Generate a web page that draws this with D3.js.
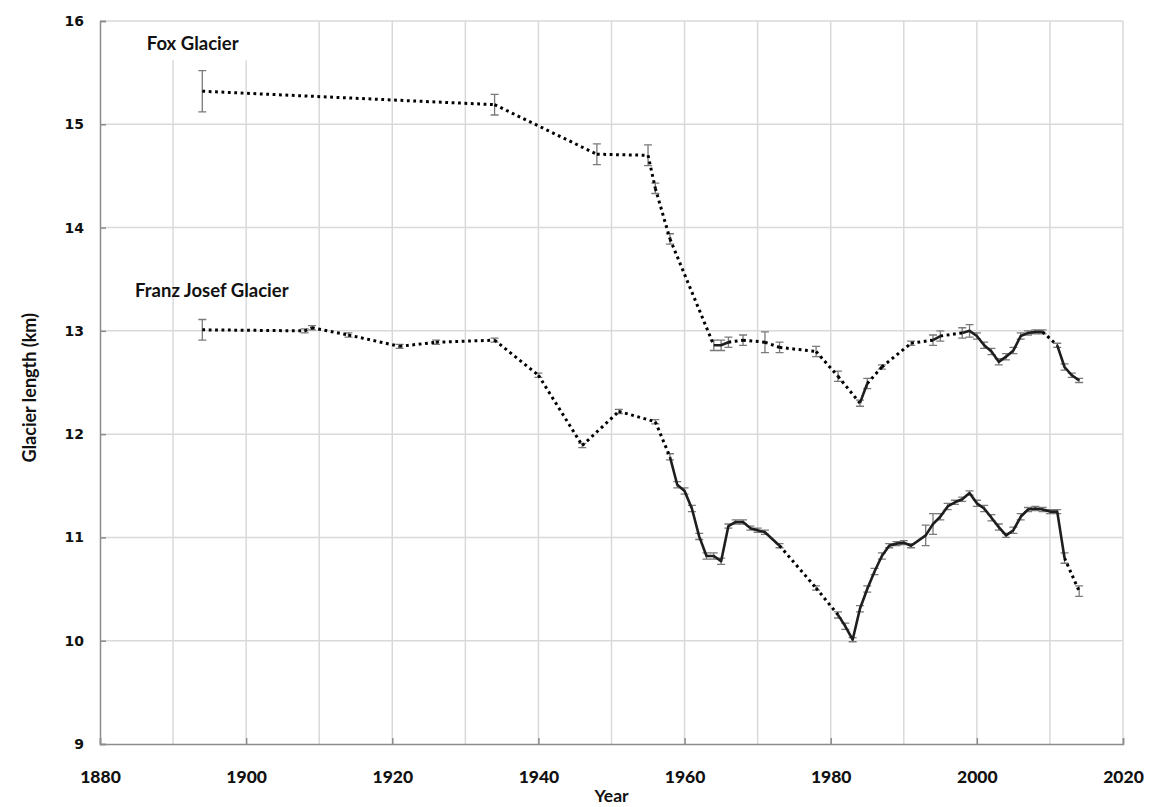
<!DOCTYPE html>
<html>
<head>
<meta charset="utf-8">
<script src="https://cdn.jsdelivr.net/npm/d3@7/dist/d3.min.js"></script>
<style>
  html, body { margin: 0; padding: 0; background: #fff; }
  svg { display: block; }
</style>
</head>
<body>
<svg id="chart" width="1153" height="807"></svg>
<script>
// Glacier terminus-based length records (km) with measurement uncertainty.
const foxYears = [1894, 1934, 1948, 1955, 1956, 1958, 1964, 1965, 1966, 1968, 1971, 1973, 1978, 1981,
  1984, 1985, 1987, 1991, 1994, 1995, 1998, 1999, 2000, 2001, 2002, 2003, 2004, 2005, 2006, 2007,
  2008, 2009, 2011, 2012, 2013, 2014];
const foxLength = [15.32, 15.19, 14.71, 14.70, 14.38, 13.89, 12.86, 12.86, 12.89, 12.91, 12.89, 12.84, 12.80, 12.56,
  12.30, 12.49, 12.65, 12.88, 12.91, 12.95, 12.98, 13.00, 12.95, 12.86, 12.80, 12.70, 12.75, 12.81, 12.95, 12.98,
  12.99, 12.99, 12.86, 12.65, 12.57, 12.52];
const foxError = [0.2, 0.1, 0.1, 0.1, 0.05, 0.05, 0.05, 0.05, 0.05, 0.05, 0.1, 0.05, 0.05, 0.05,
  0.03, 0.05, 0.02, 0.02, 0.05, 0.05, 0.05, 0.06, 0.03, 0.03, 0.03, 0.03, 0.03, 0.03, 0.03, 0.02,
  0.02, 0.02, 0.02, 0.03, 0.02, 0.02];
// Periods of annual surveys (drawn as continuous lines)
const foxAnnualPeriods = [[1964, 1966], [1984, 1985], [1994, 1995], [1998, 2009], [2011, 2014]];

const fjYears = [1894, 1908, 1909, 1914, 1921, 1926, 1934, 1940, 1946, 1951, 1956, 1958, 1959, 1960,
  1961, 1962, 1963, 1964, 1965, 1966, 1967, 1968, 1969, 1970, 1971, 1973, 1978, 1981, 1982, 1983,
  1984, 1985, 1986, 1987, 1988, 1989, 1990, 1991, 1993, 1994, 1995, 1996, 1997, 1998, 1999, 2000,
  2001, 2002, 2003, 2004, 2005, 2006, 2007, 2008, 2009, 2010, 2011, 2012, 2014];
const fjLength = [13.01, 13.00, 13.03, 12.96, 12.85, 12.89, 12.91, 12.57, 11.89, 12.22, 12.12, 11.78, 11.51, 11.45,
  11.28, 11.01, 10.82, 10.82, 10.77, 11.11, 11.15, 11.15, 11.09, 11.07, 11.05, 10.92, 10.51, 10.25, 10.14, 10.01,
  10.31, 10.50, 10.67, 10.82, 10.92, 10.94, 10.95, 10.92, 11.02, 11.13, 11.20, 11.30, 11.34, 11.37, 11.43, 11.33,
  11.28, 11.19, 11.10, 11.02, 11.07, 11.20, 11.27, 11.28, 11.27, 11.25, 11.25, 10.80, 10.48];
const fjError = [0.1, 0.02, 0.02, 0.02, 0.02, 0.02, 0.02, 0.02, 0.02, 0.02, 0.02, 0.03, 0.03, 0.03,
  0.03, 0.03, 0.03, 0.03, 0.03, 0.02, 0.02, 0.02, 0.02, 0.02, 0.02, 0.02, 0.02, 0.03, 0.03, 0.02,
  0.03, 0.03, 0.03, 0.03, 0.02, 0.02, 0.02, 0.02, 0.1, 0.1, 0.03, 0.03, 0.02, 0.02, 0.02, 0.03,
  0.03, 0.03, 0.03, 0.02, 0.03, 0.03, 0.02, 0.02, 0.02, 0.02, 0.02, 0.05, 0.05];
const fjAnnualPeriods = [[1958, 1973], [1981, 2012]];

const xTickYears = [1880, 1900, 1920, 1940, 1960, 1980, 2000, 2020];
const yTickValues = [9, 10, 11, 12, 13, 14, 15, 16];
const seriesLabels = ["Fox Glacier", "Franz Josef Glacier"];

const svg = d3.select("#chart");
const margin = { left: 100, right: 30, top: 21, bottom: 63 };
const W = 1153, H = 807;
const x = d3.scaleLinear().domain([1880, 2020]).range([margin.left, W - margin.right]);
const y = d3.scaleLinear().domain([9, 16]).range([H - margin.bottom, margin.top]);

// Gridlines
const grid = svg.append("g").attr("stroke", "#d9d9d9").attr("stroke-width", 1.5);
grid.selectAll("line.v").data(d3.range(1890, 2021, 10)).join("line")
  .attr("x1", d => x(d)).attr("x2", d => x(d))
  .attr("y1", y(16)).attr("y2", y(9));
grid.selectAll("line.h").data(yTickValues.slice(1)).join("line")
  .attr("x1", x(1880)).attr("x2", x(2020))
  .attr("y1", d => y(d)).attr("y2", d => y(d));

// Axes
const font = "Lato, 'Open Sans', sans-serif";
const xAxis = svg.append("g").attr("transform", `translate(0,${y(9)})`)
  .call(d3.axisBottom(x).tickValues(xTickYears).tickFormat(d3.format("d")).tickSizeInner(-6).tickSizeOuter(-6).tickPadding(27));
const yAxis = svg.append("g").attr("transform", `translate(${x(1880)},0)`)
  .call(d3.axisLeft(y).tickValues(yTickValues).tickFormat(d3.format("d")).tickSizeInner(-6).tickSizeOuter(-6).tickPadding(16));
[xAxis, yAxis].forEach(a => {
  a.select(".domain").attr("stroke", "#8c8c8c").attr("stroke-width", 1.5);
  a.selectAll(".tick line").attr("stroke", "#8c8c8c").attr("stroke-width", 1.5);
});
xAxis.selectAll(".tick text").attr("fill", "#111").attr("font-family", font)
  .attr("font-weight", 900).attr("font-size", 17.5);
yAxis.selectAll(".tick text").attr("fill", "#111").attr("font-family", "'DejaVu Sans', Verdana, sans-serif")
  .attr("font-weight", "bold").attr("font-size", 14);

svg.append("text").attr("x", x(1950)).attr("y", 802).attr("text-anchor", "middle")
  .attr("font-family", font).attr("font-weight", "bold").attr("font-size", 17.5).attr("fill", "#111")
  .text("Year");
svg.append("text").attr("transform", `translate(36,${y(12.45)}) rotate(-90)`).attr("text-anchor", "middle")
  .attr("font-family", font).attr("font-weight", "bold").attr("font-size", 18).attr("fill", "#111")
  .text("Glacier length (km)");

// Series drawing
function drawSeries(years, lengths, errors, periods) {
  const pts = years.map((yr, i) => ({ yr, v: lengths[i], e: errors[i] }));
  const inPeriod = (a, b) => periods.some(([s, t]) => a.yr >= s && b.yr <= t);
  const segs = d3.pairs(pts);
  const g = svg.append("g");

  // error bars
  const eb = g.append("g").attr("stroke", "#7a7a7a").attr("stroke-width", 1.3).attr("fill", "none");
  eb.selectAll("path").data(pts).join("path")
    .attr("d", d => {
      const cx = x(d.yr), t = y(d.v + d.e), b = y(d.v - d.e);
      return `M${cx - 4},${t}H${cx + 4}M${cx},${t}V${b}M${cx - 4},${b}H${cx + 4}`;
    });

  // dotted links between separate surveys
  g.append("g").selectAll("line").data(segs.filter(([a, b]) => !inPeriod(a, b))).join("line")
    .attr("x1", d => x(d[0].yr)).attr("y1", d => y(d[0].v))
    .attr("x2", d => x(d[1].yr)).attr("y2", d => y(d[1].v))
    .attr("stroke", "#000").attr("stroke-width", 3)
    .attr("stroke-dasharray", "2.8 3.6");

  // continuous annual record
  const line = d3.line().x(d => x(d.yr)).y(d => y(d.v));
  periods.forEach(([s, t]) => {
    const run = pts.filter(p => p.yr >= s && p.yr <= t);
    g.append("path").datum(run).attr("d", line)
      .attr("fill", "none").attr("stroke", "#1e1e1e").attr("stroke-width", 2.6)
      .attr("stroke-linejoin", "round");
  });
}

drawSeries(foxYears, foxLength, foxError, foxAnnualPeriods);
drawSeries(fjYears, fjLength, fjError, fjAnnualPeriods);

// Series labels
svg.append("rect").attr("x", x(1885)).attr("y", y(15.99)).attr("width", x(1906) - x(1885)).attr("height", y(15.62) - y(15.99))
  .attr("fill", "#fff");
svg.append("text").attr("x", x(1886.4)).attr("y", y(15.72)).attr("font-family", font)
  .attr("font-weight", "bold").attr("font-size", 18.5).attr("fill", "#111").text(seriesLabels[0]);
svg.append("text").attr("x", x(1884.8)).attr("y", y(13.33)).attr("font-family", font)
  .attr("font-weight", "bold").attr("font-size", 18.5).attr("fill", "#111").text(seriesLabels[1]);
</script>
</body>
</html>
